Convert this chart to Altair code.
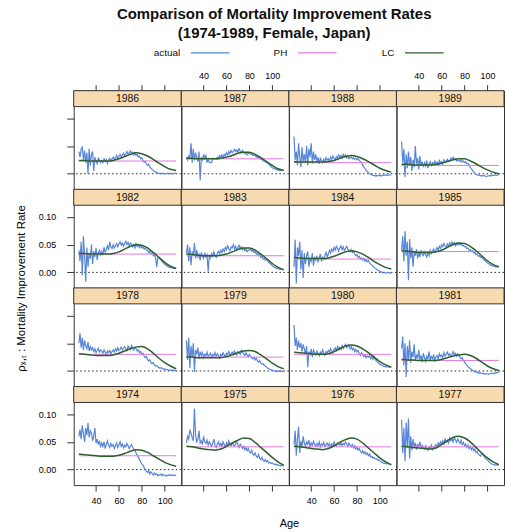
import altair as alt
import pandas as pd

# ---------------------------------------------------------------------------
# Data: mortality improvement rates (per mille) by age, Japanese females
# ---------------------------------------------------------------------------
YEARS = list(range(1974, 1990))
AGES = list(range(25, 111))            # single ages for the observed rates
LC_AGES = list(range(25, 111, 5))      # knots of the fitted Lee-Carter curve

ACTUAL_1974 = [60, 72, 55, 80, 65, 50, 75, 62, 84, 58, 70, 66, 52, 60, 75, 48, 55, 45, 52, 40,
               48, 42, 50, 38, 45, 52, 44, 40, 47, 42, 45, 38, 43, 48, 40, 44, 50, 42, 46, 39,
               44, 41, 47, 43, 38, 42, 45, 40, 37, 35, 30, 26, 22, 18, 14, 10, 8, 4, 0, -3,
               -5, -2, -8, -4, -7, -10, -6, -9, -8, -11, -9, -10, -8, -11, -9, -10, -12, -10, -11, -9,
               -10, -11, -9, -10, -11, -10]
ACTUAL_1975 = [48, 60, 55, 72, 65, 58, 52, 110, 62, 50, 55, 70, 48, 52, 45, 60, 50, 47, 53, 44,
               50, 46, 42, 48, 55, 44, 40, 46, 50, 43, 47, 42, 50, 45, 41, 48, 44, 52, 46, 43,
               48, 45, 42, 47, 50, 44, 40, 46, 43, 38, 42, 36, 40, 34, 38, 32, 30, 35, 28, 26,
               30, 24, 22, 27, 20, 18, 22, 17, 15, 18, 14, 16, 12, 13, 11, 12, 10, 9, 10, 8,
               9, 8, 7, 8, 7, 6]
ACTUAL_1976 = [45, 70, 25, 55, 77, 30, 52, 40, 60, 48, 42, 50, 46, 53, 40, 48, 44, 51, 45, 42,
               47, 43, 50, 41, 46, 44, 49, 42, 45, 48, 43, 47, 41, 46, 44, 50, 45, 42, 48, 46,
               44, 49, 43, 47, 45, 50, 46, 42, 48, 44, 41, 45, 39, 43, 37, 40, 35, 38, 33, 30,
               34, 29, 32, 27, 30, 25, 28, 23, 24, 21, 22, 19, 20, 17, 18, 16, 14, 13, 12, 11,
               12, 10, 11, 10, 9, 9]
ACTUAL_1977 = [90, 30, 75, 15, 85, 40, 92, 20, 60, 35, 55, 40, 48, 36, 45, 42, 50, 38, 44, 40,
               37, 43, 39, 35, 41, 38, 44, 36, 40, 42, 45, 41, 48, 44, 50, 46, 52, 47, 55, 50,
               53, 48, 57, 52, 56, 50, 58, 54, 49, 55, 51, 47, 53, 45, 49, 43, 46, 40, 44, 38,
               42, 36, 40, 34, 37, 31, 33, 28, 26, 24, 30, 27, 24, 21, 19, 17, 15, 13, 11, 10,
               9, 9, 8, 9, 8, 9]
ACTUAL_1978 = [50, 68, 42, 60, 38, 55, 45, 40, 52, 36, 44, 38, 42, 35, 40, 33, 37, 41, 34, 38,
               36, 32, 38, 34, 30, 36, 33, 37, 31, 35, 38, 34, 40, 36, 42, 37, 39, 43, 38, 41,
               44, 40, 37, 45, 42, 39, 46, 41, 38, 43, 40, 36, 38, 33, 35, 30, 32, 27, 24, 26,
               21, 18, 20, 15, 13, 15, 11, 9, 10, 7, 6, 5, 6, 4, 3, 4, 2, 3, 2, 1,
               2, 1, 2, 1, 1, 0]
ACTUAL_1979 = [55, 20, 60, 5, 45, 25, 50, -2, 38, 30, 42, 22, 35, 28, 33, 24, 30, 27, 34, 26,
               29, 32, 25, 30, 27, 33, 26, 31, 28, 24, 30, 27, 33, 29, 26, 32, 30, 35, 28, 31,
               34, 30, 36, 32, 29, 35, 33, 30, 37, 34, 31, 28, 33, 29, 26, 30, 27, 24, 22, 25,
               20, 23, 18, 16, 19, 14, 12, 13, 10, 9, 7, 5, 4, 3, 2, 1, 1, 0, -1, 0,
               -1, 0, -1, 0, -1, 0]
ACTUAL_1980 = [83, 45, 60, 38, 55, 42, 50, 35, 48, 40, 30, 45, 7, 35, 28, 40, 25, 38, 33, 29,
               36, 31, 27, 34, 30, 38, 32, 28, 35, 33, 37, 34, 40, 36, 32, 39, 42, 37, 44, 40,
               43, 39, 46, 41, 45, 48, 42, 44, 47, 40, 44, 38, 41, 35, 39, 34, 37, 31, 28, 33,
               30, 26, 29, 24, 27, 25, 28, 22, 26, 21, 26, 21, 18, 16, 14, 12, 11, 10, 9, 8,
               8, 7, 8, 7, 7, 7]
ACTUAL_1981 = [40, 62, 10, 50, -11, 45, 20, 55, 15, 35, 25, 48, 18, 30, 22, 38, 20, 28, 16, 32,
               24, 18, 27, 21, 35, 19, 26, 22, 30, 17, 25, 28, 22, 31, 26, 29, 24, 33, 27, 30,
               34, 28, 31, 26, 30, 35, 29, 32, 27, 31, 28, 25, 22, 24, 19, 16, 13, 10, 8, 6,
               4, 3, 1, 0, -2, -1, -3, -2, -4, -3, -4, -5, -4, -6, -5, -5, -6, -5, -5, -4,
               -5, -4, -4, -3, -3, -2]
ACTUAL_1982 = [40, 20, 55, -5, 65, 30, -17, 45, 10, 35, 25, 50, 15, 38, 28, 44, 22, 35, 40, 30,
               38, 33, 45, 36, 42, 48, 40, 55, 46, 43, 50, 44, 48, 52, 46, 51, 55, 49, 53, 47,
               52, 56, 50, 54, 48, 53, 51, 46, 50, 44, 52, 47, 50, 45, 48, 44, 46, 42, 44, 40,
               40, 36, 38, 33, 35, 30, 32, 27, 10, 26, 27, 24, 22, 19, 17, 15, 13, 12, 10, 9,
               9, 8, 8, 7, 7, 7]
ACTUAL_1983 = [35, 50, 20, 45, 13, 38, 30, 53, 25, 40, 28, 33, 22, 36, 30, 25, 35, 28, 32, 1,
               30, 26, 34, 29, 37, 31, 27, 35, 38, 33, 40, 36, 42, 38, 45, 41, 48, 43, 39, 46,
               44, 50, 42, 47, 40, 45, 49, 43, 46, 41, 44, 39, 42, 37, 40, 40, 42, 38, 40, 36,
               38, 33, 35, 30, 32, 27, 29, 24, 26, 22, 24, 21, 18, 16, 14, 12, 10, 9, 8, 7,
               7, 6, 6, 6, 5, 5]
ACTUAL_1984 = [10, 59, -20, 45, 30, 55, 5, 40, -10, 35, 15, 30, 38, 10, 25, 20, 35, 12, 28, 22,
               30, 18, 26, 33, 20, 27, 24, 30, 36, 28, 33, 40, 35, 42, 38, 45, 40, 47, 43, 38,
               44, 48, 41, 46, 39, 43, 47, 42, 40, 37, 41, 36, 38, 33, 30, 32, 27, 29, 24, 26,
               22, 25, 20, 23, 19, 21, 17, 15, 13, 11, 9, 7, 6, 4, 3, 2, 1, 0, -1, 0,
               -1, -1, 0, -1, -1, -1]
ACTUAL_1985 = [40, 65, 20, 74, 30, 55, -14, 60, 25, 45, 10, 38, 30, 42, 25, 35, 28, 40, 33, 30,
               37, 32, 28, 35, 30, 40, 34, 38, 42, 36, 41, 45, 39, 47, 43, 50, 46, 52, 48, 45,
               51, 47, 53, 49, 55, 50, 54, 48, 52, 49, 53, 50, 51, 48, 49, 46, 47, 43, 44, 40,
               41, 38, 39, 35, 36, 32, 33, 29, 30, 27, 28, 25, 23, 21, 19, 17, 16, 14, 13, 12,
               11, 11, 10, 10, 10, 10]
ACTUAL_1986 = [40, 30, 45, 48, 25, 42, 20, 38, 0, 45, 15, 35, 40, 5, 30, 22, 18, 28, 25, 20,
               24, 20, 27, 22, 26, 19, 25, 28, 23, 27, 30, 26, 29, 33, 28, 31, 35, 30, 34, 37,
               33, 36, 40, 35, 38, 41, 36, 39, 34, 37, 33, 35, 30, 32, 27, 29, 24, 21, 23, 18,
               15, 17, 12, 10, 8, 6, 4, 3, 2, 1, 1, 0, 1, 0, 1, 0, 0, 1, 0, 1,
               0, 1, 0, 0, 1, 0]
ACTUAL_1987 = [30, 25, 32, 28, 55, 20, 45, 24, 38, 30, 22, 40, -12, 30, 25, 35, 28, 33, 20, 26,
               20, 20, 20, 28, 28, 28, 26, 30, 27, 33, 30, 34, 29, 35, 32, 38, 34, 40, 36, 42,
               38, 41, 44, 40, 43, 39, 45, 41, 38, 42, 39, 36, 38, 34, 37, 37, 35, 36, 33, 34,
               33, 30, 32, 28, 30, 26, 27, 23, 24, 21, 22, 19, 17, 15, 13, 11, 10, 9, 8, 7,
               7, 6, 6, 6, 6, 6]
ACTUAL_1988 = [67, 25, 40, 15, 55, 30, 12, 48, 22, 35, 20, 50, 15, 45, 30, 55, 18, 40, 25, 35,
               22, 30, 18, 28, 24, 20, 26, 22, 29, 25, 27, 23, 30, 26, 32, 28, 25, 31, 29, 34,
               30, 33, 28, 35, 31, 34, 29, 32, 27, 30, 30, 27, 29, 26, 28, 25, 27, 24, 22, 20,
               16, 12, 9, 6, 4, 2, 0, -1, -2, -3, -3, -4, -3, -4, -3, -3, -4, -3, -3, -2,
               -3, -2, -3, -2, -2, -2]
ACTUAL_1989 = [58, 20, 45, -6, 35, 10, 40, 15, 30, 5, 25, 12, 50, 18, 28, 8, 32, 15, 22, 12,
               20, 14, 24, 10, 18, 22, 15, 20, 17, 23, 19, 21, 16, 24, 20, 22, 18, 25, 21, 23,
               26, 22, 24, 28, 25, 30, 26, 27, 23, 24, 24, 22, 25, 21, 23, 20, 22, 18, 19, 16,
               12, 9, 6, 3, 1, -1, -2, -3, -2, -4, -3, -4, -3, -4, -5, -4, -4, -3, -4, -3,
               -3, -3, -2, -3, -2, -2]

# Lee-Carter fitted rates (per mille) at ages 25, 30, ..., 110
LC_1974 = [28, 27, 26, 25, 24, 24, 24, 26, 29, 33, 36, 35, 31, 25, 19, 13, 9, 6]
LC_1975 = [42, 41, 39, 37, 36, 35, 37, 42, 48, 53, 57, 56, 49, 40, 31, 22, 14, 8]
LC_1976 = [42, 41, 40, 38, 37, 36, 38, 43, 49, 54, 57, 55, 48, 39, 30, 21, 14, 9]
LC_1977 = [42, 41, 40, 39, 38, 37, 39, 45, 52, 58, 60, 57, 50, 40, 30, 21, 14, 9]
LC_1978 = [31, 30, 29, 28, 28, 28, 29, 32, 36, 40, 43, 44, 40, 32, 23, 15, 9, 4]
LC_1979 = [25, 25, 24, 24, 24, 24, 24, 26, 29, 33, 36, 37, 35, 29, 22, 14, 8, 4]
LC_1980 = [34, 33, 32, 31, 30, 30, 31, 35, 40, 45, 47, 45, 40, 33, 25, 17, 11, 7]
LC_1981 = [21, 20, 20, 19, 19, 19, 19, 21, 24, 27, 29, 30, 28, 23, 16, 9, 4, 1]
LC_1982 = [34, 34, 33, 33, 33, 33, 34, 37, 42, 47, 50, 49, 44, 36, 27, 18, 11, 7]
LC_1983 = [33, 32, 31, 30, 30, 30, 31, 33, 37, 41, 44, 44, 40, 33, 25, 16, 9, 5]
LC_1984 = [27, 26, 25, 25, 25, 25, 26, 29, 33, 37, 39, 37, 33, 27, 20, 14, 9, 6]
LC_1985 = [39, 38, 37, 36, 36, 36, 37, 40, 45, 50, 53, 52, 47, 39, 30, 21, 14, 10]
LC_1986 = [24, 24, 23, 23, 23, 23, 24, 27, 31, 35, 38, 36, 32, 26, 19, 13, 8, 6]
LC_1987 = [28, 28, 27, 27, 27, 27, 28, 30, 33, 37, 39, 39, 35, 29, 22, 15, 9, 6]
LC_1988 = [22, 21, 21, 21, 21, 21, 22, 24, 28, 31, 33, 31, 27, 22, 16, 10, 6, 3]
LC_1989 = [17, 17, 16, 16, 16, 16, 17, 19, 22, 25, 27, 27, 23, 18, 12, 7, 3, 0]

# Poisson-Haberman style age-constant rate (per mille), one per year
PH_RATE = [25, 41, 41, 41, 30, 25, 30, 19, 33, 30, 24, 37.5, 23, 27, 20, 15]

SERIES = ["actual", "PH", "LC"]
COLORS = ["#5786d8", "#e07ae0", "#2d5f2d"]

ACTUAL = [ACTUAL_1974, ACTUAL_1975, ACTUAL_1976, ACTUAL_1977, ACTUAL_1978, ACTUAL_1979,
          ACTUAL_1980, ACTUAL_1981, ACTUAL_1982, ACTUAL_1983, ACTUAL_1984, ACTUAL_1985,
          ACTUAL_1986, ACTUAL_1987, ACTUAL_1988, ACTUAL_1989]
LC = [LC_1974, LC_1975, LC_1976, LC_1977, LC_1978, LC_1979, LC_1980, LC_1981,
      LC_1982, LC_1983, LC_1984, LC_1985, LC_1986, LC_1987, LC_1988, LC_1989]

rows = []
for yr, act, lc, ph in zip(YEARS, ACTUAL, LC, PH_RATE):
    assert len(act) == len(AGES) and len(lc) == len(LC_AGES)
    rows += [dict(year=yr, series="actual", age=a, rate=v / 1000) for a, v in zip(AGES, act)]
    rows += [dict(year=yr, series="LC", age=a, rate=v / 1000) for a, v in zip(LC_AGES, lc)]
    rows += [dict(year=yr, series="PH", age=a, rate=ph / 1000) for a in (AGES[0], AGES[-1])]
df = pd.DataFrame(rows)

# ---------------------------------------------------------------------------
# Lattice-style panels
# ---------------------------------------------------------------------------
FONT = "Liberation Sans"
PANEL_W = 108
PANEL_H = 99
STRIP_H = 16
STRIP_FILL = "#f8dab0"
FRAME = "#333333"

x_scale = alt.Scale(domain=[20.5, 114.5], nice=False, zero=False)
y_scale = alt.Scale(domain=[-0.028, 0.121], range=[PANEL_H, STRIP_H], nice=False, zero=False)

# panel order: top row 1986-1989 down to bottom row 1974-1977
LAYOUT = [YEARS[12:16], YEARS[8:12], YEARS[4:8], YEARS[0:4]]


def x_axis(r, c):
    common = dict(values=[40, 60, 80, 100], tickSize=6, grid=False,
                  domain=False, labelFontSize=9, labelFont=FONT, tickColor=FRAME)
    if r == 0:
        return alt.Axis(orient="top", labels=c in (1, 3), labelPadding=4, title=None, **common)
    if r == 3:
        if c == 1:
            return alt.Axis(orient="bottom", labels=False, labelPadding=5, title="Age",
                            titleX=PANEL_W, titleY=33, titleFontSize=11,
                            titleFontWeight="normal", titleFont=FONT, titleAlign="center",
                            **common)
        return alt.Axis(orient="bottom", labels=c in (0, 2), labelPadding=5, title=None,
                        **common)
    return None


def y_axis(r, c):
    if c != 0:
        return None
    common = dict(values=[0, 0.05, 0.10], format=".2f", tickSize=7, labelPadding=11,
                  grid=False, domain=False, labelFontSize=9, labelFont=FONT,
                  tickColor=FRAME, labels=r in (1, 3))
    if r == 1:
        return alt.Axis(title="ρₓ,ₜ : Mortality Improvement Rate", titleX=-52, titleY=PANEL_H,
                        titleAngle=270, titleAlign="center", titleBaseline="middle",
                        titleFontSize=11.5, titleFontWeight="normal", titleFont=FONT,
                        **common)
    return alt.Axis(title=None, **common)


def panel(year, r, c):
    d = df[df["year"] == year]
    xa, ya = x_axis(r, c), y_axis(r, c)
    x = alt.X("age:Q", scale=x_scale, axis=xa)
    y = alt.Y("rate:Q", scale=y_scale, axis=ya)
    label_df = pd.DataFrame({"label": [str(year)]})
    zero_df = pd.DataFrame({"rate": [0.0]})

    strip = alt.Chart(label_df).mark_rect(fill=STRIP_FILL, stroke=FRAME, strokeWidth=1).encode(
        x=alt.value(0), x2=alt.value(PANEL_W), y=alt.value(0), y2=alt.value(STRIP_H))
    strip_text = alt.Chart(label_df).mark_text(font=FONT, fontSize=10.5, color="#111",
                                               baseline="middle").encode(
        x=alt.value(PANEL_W / 2), y=alt.value(STRIP_H / 2 + 0.5), text="label:N")
    zero = alt.Chart(zero_df).mark_rule(color="#222", strokeDash=[1.5, 2.5], strokeWidth=1).encode(y=y)
    actual = alt.Chart(d[d["series"] == "actual"]).mark_line(
        color=COLORS[0], strokeWidth=1.2, clip=True).encode(x=x, y=y)
    ph = alt.Chart(d[d["series"] == "PH"]).mark_line(
        color=COLORS[1], strokeWidth=1).encode(x=x, y=y)
    lc = alt.Chart(d[d["series"] == "LC"]).mark_line(
        color=COLORS[2], strokeWidth=1.5, interpolate="monotone").encode(x=x, y=y)
    return alt.layer(strip, strip_text, zero, actual, ph, lc).properties(
        width=PANEL_W, height=PANEL_H)


panels = [panel(yr, r, c) for r, row in enumerate(LAYOUT) for c, yr in enumerate(row)]
grid = alt.concat(*panels, columns=4, spacing=0, bounds="flush")

# ---------------------------------------------------------------------------
# Key above the panels
# ---------------------------------------------------------------------------
key_df = pd.DataFrame({"series": SERIES})
key_x = alt.X("series:N", scale=alt.Scale(type="point", domain=SERIES, range=[137, 352],
                                          padding=0), axis=None)
key_lines = alt.Chart(key_df).mark_point(shape="M-1,0L1,0", size=1500, filled=False,
                                         strokeWidth=1.2, opacity=1).encode(
    x=key_x, y=alt.value(6),
    color=alt.Color("series:N", scale=alt.Scale(domain=SERIES, range=COLORS), legend=None))
key_text = alt.Chart(key_df).mark_text(font=FONT, fontSize=10, align="right", dx=-30,
                                       baseline="middle", color="#111").encode(
    x=key_x, y=alt.value(6), text="series:N")
key = alt.layer(key_lines, key_text).properties(
    width=4 * PANEL_W, height=12, view=alt.ViewBackground(stroke="transparent"))

chart = alt.vconcat(key, grid, spacing=11).properties(
    title=alt.TitleParams(["Comparison of Mortality Improvement Rates",
                           "(1974-1989, Female, Japan)"],
                          font=FONT, fontSize=15, fontWeight="bold", lineHeight=19,
                          anchor="middle", color="#111", offset=5, dx=14),
    padding={"left": 15, "top": 6, "right": 3, "bottom": 2},
    background="white",
).configure_view(stroke=FRAME, strokeWidth=1)

chart.save("out.html", embed_options={"renderer": "svg", "actions": False})
